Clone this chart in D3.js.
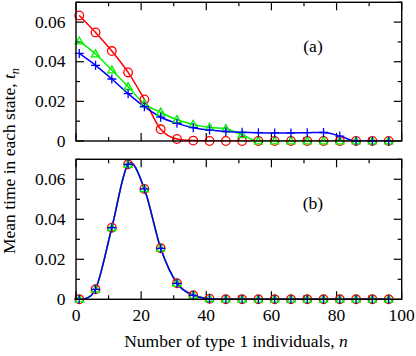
<!DOCTYPE html>
<html>
<head>
<meta charset="utf-8">
<script src="https://cdn.jsdelivr.net/npm/d3@7"></script>
<style>
  body { margin: 0; background: #fff; }
  text { font-family: "Liberation Serif", "Times New Roman", serif; fill: #000; }
</style>
</head>
<body>
<div id="chart"></div>
<script>
// data
const nValues = [1, 6, 11, 16, 21, 26, 31, 36, 41, 46, 51, 56, 61, 66, 71, 76, 81, 86, 91, 96];

// panel (a)
const topRed   = [0.0634, 0.0548, 0.0454, 0.0346, 0.0210, 0.0059, 0.0010, 0.0002, 0, 0, 0, 0, 0, 0, 0, 0, 0, 0, 0, 0];
const topGreen = [0.0504, 0.0439, 0.0358, 0.0274, 0.0187, 0.0145, 0.0107, 0.0084, 0.0068, 0.0062, 0.0031, 0, 0, 0, 0, 0, 0, 0, 0, 0];
const topBlue  = [0.0442, 0.0382, 0.0313, 0.0239, 0.0173, 0.0120, 0.0089, 0.0067, 0.0055, 0.0048, 0.0044, 0.0042, 0.0041, 0.0041, 0.0042, 0.0043, 0.0025, 0, 0, 0];

// panel (b): the three series lie on top of each other
const bottomRed   = [0, 0.0050, 0.0358, 0.0675, 0.0552, 0.0255, 0.0080, 0.0020, 0.0003, 0, 0, 0, 0, 0, 0, 0, 0, 0, 0, 0];
const bottomGreen = bottomRed.slice();
const bottomBlue  = bottomRed.slice();

const xTicks = [0, 20, 40, 60, 80, 100];
const yTicks = [0, 0.02, 0.04, 0.06];

const width = 416, height = 356;
const left = 76, right = 401.7;

const svg = d3.select("#chart").append("svg")
    .attr("width", width)
    .attr("height", height);

const x = d3.scaleLinear().domain([0, 100]).range([left, right]);

function fmt(v) { return v === 0 ? "0" : d3.format(".2f")(v); }

function panel(top, bottom, series, curve, tag, showXLabels) {
    const y = d3.scaleLinear().domain([0, 0.07]).range([bottom, top]);
    const g = svg.append("g");
    const clipId = "clip" + tag.replace(/\W/g, "");

    g.append("clipPath").attr("id", clipId)
        .append("rect")
        .attr("x", left).attr("y", top)
        .attr("width", right - left).attr("height", bottom - top);

    // ticks, pointing inward on all four sides
    const xMajor = d3.range(0, 101, 20), xMinor = d3.range(10, 100, 20);
    const yMajor = d3.range(0, 0.0701, 0.02), yMinor = d3.range(0.01, 0.0701, 0.02);
    const tk = g.append("g").attr("stroke", "#000").attr("stroke-width", 1.2);
    [[xMajor, 8], [xMinor, 4]].forEach(([vals, len]) => {
        vals.forEach(v => {
            tk.append("line").attr("x1", x(v)).attr("x2", x(v)).attr("y1", bottom).attr("y2", bottom - len);
            tk.append("line").attr("x1", x(v)).attr("x2", x(v)).attr("y1", top).attr("y2", top + len);
        });
    });
    [[yMajor, 8], [yMinor, 4]].forEach(([vals, len]) => {
        vals.forEach(v => {
            tk.append("line").attr("x1", left).attr("x2", left + len).attr("y1", y(v)).attr("y2", y(v));
            tk.append("line").attr("x1", right).attr("x2", right - len).attr("y1", y(v)).attr("y2", y(v));
        });
    });

    // lines and markers
    const plot = g.append("g").attr("clip-path", `url(#${clipId})`);
    const line = d3.line().x((d, i) => x(nValues[i])).y(d => y(d)).curve(curve);

    series.forEach(s => {
        plot.append("path")
            .attr("d", line(s.values))
            .attr("fill", "none")
            .attr("stroke", s.color)
            .attr("stroke-width", 1.5);
    });

    series.forEach(s => {
        const m = g.append("g").attr("stroke", s.color).attr("stroke-width", 1.3).attr("fill", "none");
        s.values.forEach((v, i) => {
            const cx = x(nValues[i]), cy = y(v);
            if (s.shape === "circle") {
                m.append("circle").attr("cx", cx).attr("cy", cy).attr("r", 4.3);
            } else if (s.shape === "triangle") {
                m.append("path").attr("d", d3.symbol(d3.symbolTriangle2, 46)()).attr("transform", `translate(${cx},${cy + 0.5})`);
            } else {
                m.append("path").attr("d", `M${cx - 4.5},${cy}H${cx + 4.5}M${cx},${cy - 4.5}V${cy + 4.5}`);
            }
        });
    });

    // frame
    g.append("rect")
        .attr("x", left).attr("y", top)
        .attr("width", right - left).attr("height", bottom - top)
        .attr("fill", "none").attr("stroke", "#000").attr("stroke-width", 1.4);

    // y tick labels
    g.selectAll("text.yt").data(yTicks).enter().append("text")
        .attr("class", "yt")
        .attr("x", 65.5)
        .attr("y", d => y(d) + 5.5)
        .attr("text-anchor", "end")
        .attr("font-size", 17.5)
        .text(fmt);

    if (showXLabels) {
        g.selectAll("text.xt").data(xTicks).enter().append("text")
            .attr("class", "xt")
            .attr("x", d => x(d))
            .attr("y", bottom + 21.5)
            .attr("text-anchor", "middle")
            .attr("font-size", 17.5)
            .text(d => d);
    }

    g.append("text")
        .attr("x", 313)
        .attr("y", top + 50)
        .attr("text-anchor", "middle")
        .attr("font-size", 17.5)
        .text(tag);
}

panel(2.3, 141, [
    { values: topRed, color: "#ff0000", shape: "circle" },
    { values: topGreen, color: "#00f000", shape: "triangle" },
    { values: topBlue, color: "#0000ff", shape: "plus" }
], d3.curveMonotoneX, "(a)", false);

panel(159.3, 299.3, [
    { values: bottomRed, color: "#ff0000", shape: "circle" },
    { values: bottomGreen, color: "#00f000", shape: "triangle" },
    { values: bottomBlue, color: "#0000ff", shape: "plus" }
], d3.curveCatmullRom.alpha(0), "(b)", true);

// axis titles
svg.append("text")
    .attr("x", 236)
    .attr("y", 346.5)
    .attr("text-anchor", "middle")
    .attr("font-size", 17.5)
    .html('Number of type 1 individuals, <tspan font-style="italic">n</tspan>');

const yl = svg.append("text")
    .attr("transform", "translate(15,161) rotate(-90)")
    .attr("text-anchor", "middle")
    .attr("font-size", 17.5);
yl.append("tspan").text("Mean time in each state, ");
yl.append("tspan").attr("font-style", "italic").text("t");
yl.append("tspan").attr("font-style", "italic").attr("font-size", 12.5).attr("dy", 4).text("n");
</script>
</body>
</html>
